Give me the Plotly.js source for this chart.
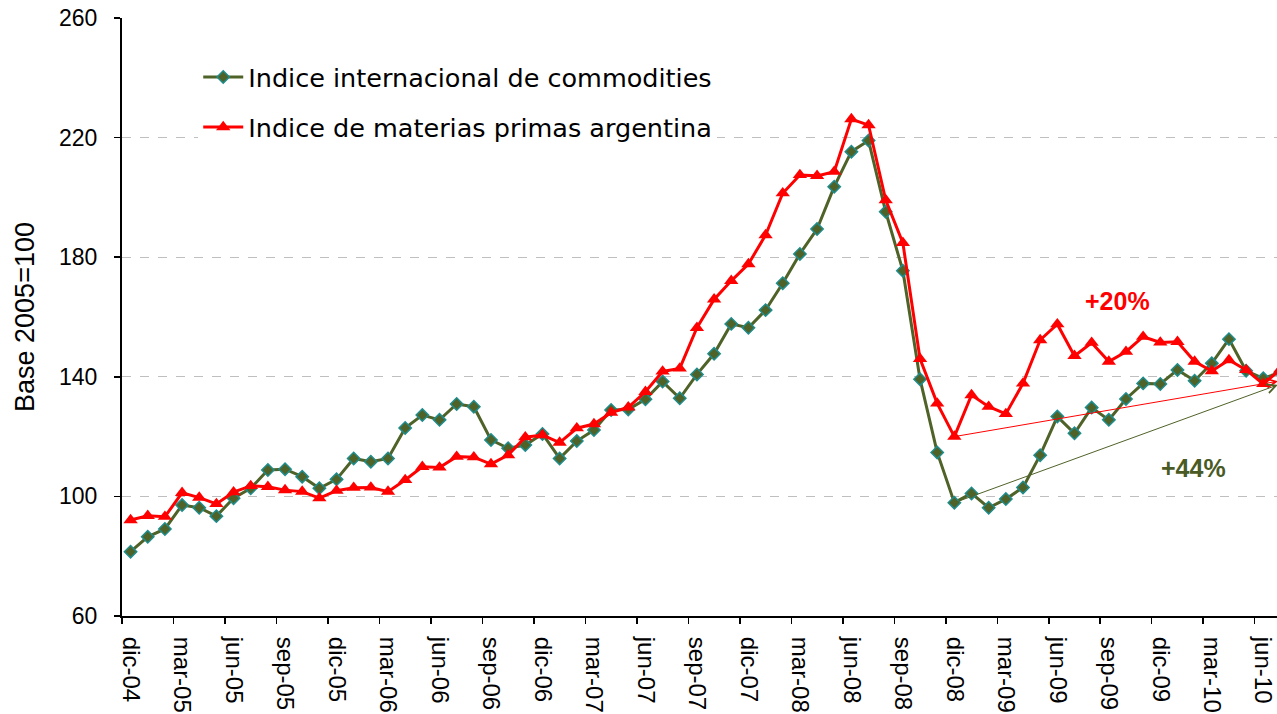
<!DOCTYPE html>
<html><head><meta charset="utf-8">
<script src="https://cdn.plot.ly/plotly-3.0.1.min.js"></script>
<style>html,body{margin:0;padding:0;background:#fff}#chart{width:1277px;height:714px}</style>
</head><body><div id="chart"></div>
<script>
const months = ['dic-04','ene-05','feb-05','mar-05','abr-05','may-05','jun-05','jul-05','ago-05','sep-05','oct-05','nov-05',
  'dic-05','ene-06','feb-06','mar-06','abr-06','may-06','jun-06','jul-06','ago-06','sep-06','oct-06','nov-06',
  'dic-06','ene-07','feb-07','mar-07','abr-07','may-07','jun-07','jul-07','ago-07','sep-07','oct-07','nov-07',
  'dic-07','ene-08','feb-08','mar-08','abr-08','may-08','jun-08','jul-08','ago-08','sep-08','oct-08','nov-08',
  'dic-08','ene-09','feb-09','mar-09','abr-09','may-09','jun-09','jul-09','ago-09','sep-09','oct-09','nov-09',
  'dic-09','ene-10','feb-10','mar-10','abr-10','may-10','jun-10','jul-10'];

const tickLabels = ['dic-04','mar-05','jun-05','sep-05','dic-05','mar-06','jun-06','sep-06','dic-06','mar-07','jun-07',
  'sep-07','dic-07','mar-08','jun-08','sep-08','dic-08','mar-09','jun-09','sep-09','dic-09','mar-10','jun-10'];

const commodities = [81.5, 86.5, 89.1, 97.1, 96.2, 93.4, 99.4, 102.7, 108.8, 109.1, 106.6, 102.7,
  105.7, 112.7, 111.6, 112.7, 122.9, 127.2, 125.6, 130.9, 130.0, 118.9, 116.1, 117.2,
  120.9, 112.7, 118.5, 122.2, 128.9, 129.1, 132.5, 138.4, 132.8, 140.8, 147.7, 157.7,
  156.4, 162.3, 171.3, 181.1, 189.4, 203.6, 215.3, 219.0, 195.2, 175.5, 139.2, 114.7,
  97.9, 101.0, 96.2, 99.1, 103.0, 113.8, 126.7, 121.1, 129.7, 125.6, 132.6, 137.8,
  137.6, 142.3, 138.7, 144.5, 152.6, 142.0, 139.5, 141.5];

const argentina = [92.1, 93.5, 93.2, 101.2, 99.6, 97.5, 101.4, 103.5, 103.2, 102.1, 101.6, 99.4,
  101.9, 102.9, 103.0, 101.6, 105.5, 109.9, 109.7, 113.3, 113.1, 110.8, 113.8, 119.8,
  120.5, 118.0, 122.8, 124.2, 128.0, 129.8, 135.0, 141.8, 142.8, 156.4, 165.9, 172.1,
  177.7, 187.4, 201.4, 207.5, 207.2, 208.6, 226.2, 224.2, 199.1, 184.8, 146.0, 131.1,
  120.0, 133.9, 130.0, 127.6, 137.8, 152.3, 157.6, 147.0, 151.4, 145.1, 148.4, 153.4,
  151.5, 151.7, 145.1, 141.9, 145.6, 142.3, 137.6, 142.5];

const seriesNames = ['Indice internacional de commodities', 'Indice de materias primas argentina'];
const trendStart = 'dic-08';
const trendEndValues = [137.3, 138.5];   // commodities, argentina (arrow tips at right edge)
const trendLabels = ['+44%', '+20%'];

const GREEN = '#4F6228', TEAL = '#1F8C8C', RED = '#FF0000';
const xRange = [-0.5, months.length - 1.2];
const boundaryTicks = tickLabels.map(l => months.indexOf(l) - 0.5);
const iStart = months.indexOf(trendStart);
const tipX = months.length - 1.15;

const traces = [
  {x: months, y: commodities, name: seriesNames[0], type: 'scatter', mode: 'lines+markers',
   legendgroup: 'a',
   line: {color: GREEN, width: 3},
   marker: {symbol: 'diamond', size: 9.5, color: GREEN, line: {color: TEAL, width: 1.5}}},
  {x: months, y: argentina, name: seriesNames[1], type: 'scatter', mode: 'lines+markers',
   legendgroup: 'b',
   line: {color: RED, width: 3},
   marker: {symbol: 'triangle-up', size: 12.5, color: RED, line: {width: 0}}},
  {x: [], y: [], xaxis: 'x2', showlegend: false, hoverinfo: 'skip', type: 'scatter'}
];

const annotations = [
  {x: tipX, y: trendEndValues[1], ax: iStart, ay: argentina[iStart], xref: 'x', yref: 'y', axref: 'x', ayref: 'y',
   showarrow: true, arrowhead: 5, arrowsize: 1.8, arrowwidth: 1, arrowcolor: RED, text: '', standoff: 0},
  {x: tipX, y: trendEndValues[0], ax: iStart, ay: commodities[iStart], xref: 'x', yref: 'y', axref: 'x', ayref: 'y',
   showarrow: true, arrowhead: 5, arrowsize: 1.8, arrowwidth: 1, arrowcolor: GREEN, text: '', standoff: 0},
  {x: 57.5, y: 165.2, xref: 'x', yref: 'y', text: '<b>' + trendLabels[1] + '</b>', showarrow: false,
   font: {family: 'Liberation Sans, Arial, sans-serif', size: 25, color: RED}},
  {x: 61.95, y: 109.6, xref: 'x', yref: 'y', text: '<b>' + trendLabels[0] + '</b>', showarrow: false,
   font: {family: 'Liberation Sans, Arial, sans-serif', size: 25, color: '#4A5A24'}}
];

const layout = {
  width: 1277, height: 714,
  margin: {l: 122, r: 0, t: 18, b: 98, pad: 0},
  paper_bgcolor: '#fff', plot_bgcolor: '#fff',
  font: {family: 'Liberation Sans, Arial, sans-serif', color: '#000'},
  showlegend: true,
  legend: {x: 0.066, y: 0.94, xanchor: 'left', yanchor: 'top', bgcolor: '#fff', borderwidth: 0,
           traceorder: 'grouped', tracegroupgap: 14, itemwidth: 40,
           font: {family: 'DejaVu Sans, sans-serif', size: 25.5, color: '#000'}},
  xaxis: {type: 'category', range: xRange, tickmode: 'array', tickvals: tickLabels, ticktext: tickLabels,
          tickangle: 90, ticks: 'outside', ticklen: 14, tickcolor: 'rgba(0,0,0,0)',
          showline: true, linecolor: '#000', linewidth: 2, showgrid: false, zeroline: false,
          tickfont: {size: 24, color: '#000'}, fixedrange: true},
  xaxis2: {overlaying: 'x', anchor: 'y', side: 'bottom', type: 'linear', range: xRange,
           tickmode: 'array', tickvals: boundaryTicks, ticks: 'outside', ticklen: 7, tickwidth: 1.5, tickcolor: '#000',
           showticklabels: false, showline: false, showgrid: false, zeroline: false},
  yaxis: {range: [60, 260], tickmode: 'linear', tick0: 60, dtick: 40,
          ticks: 'outside', ticklen: 6, tickwidth: 1.5, tickcolor: '#000',
          showline: true, linecolor: '#000', linewidth: 2,
          showgrid: true, gridcolor: '#BFBFBF', griddash: 'dash', gridwidth: 1, zeroline: false,
          tickfont: {size: 23, color: '#000'}, ticklabelstandoff: 12,
          title: {text: 'Base 2005=100', font: {size: 27, color: '#000'}, standoff: 17}},
  annotations: annotations
};

Plotly.newPlot('chart', traces, layout, {displayModeBar: false, staticPlot: true});
</script></body></html>
